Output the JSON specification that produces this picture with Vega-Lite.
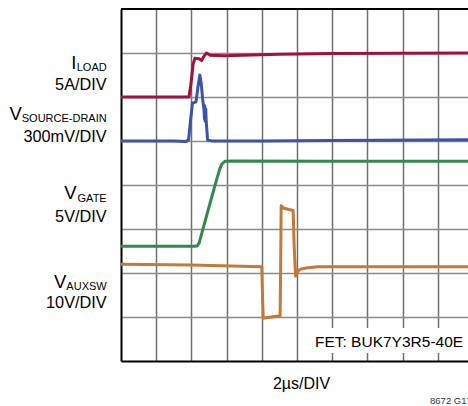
{
  "$schema": "https://vega.github.io/schema/vega-lite/v6.json",
  "width": 347,
  "height": 352,
  "autosize": "none",
  "padding": {"left": 121, "top": 9, "right": 0, "bottom": 45},
  "background": "white",
  "config": {"view": {"stroke": null}, "font": "Liberation Sans"},
  "datasets": {
    "traces": [
      {"series": "ILOAD", "i": 0, "t": 0, "v": 6.0},
      {"series": "ILOAD", "i": 1, "t": 1.93, "v": 6.0},
      {"series": "ILOAD", "i": 2, "t": 1.98, "v": 6.25},
      {"series": "ILOAD", "i": 3, "t": 2.05, "v": 6.75},
      {"series": "ILOAD", "i": 4, "t": 2.1, "v": 6.88},
      {"series": "ILOAD", "i": 5, "t": 2.22, "v": 6.87},
      {"series": "ILOAD", "i": 6, "t": 2.29, "v": 6.83},
      {"series": "ILOAD", "i": 7, "t": 2.36, "v": 6.93},
      {"series": "ILOAD", "i": 8, "t": 2.43, "v": 7.0},
      {"series": "ILOAD", "i": 9, "t": 2.53, "v": 6.95},
      {"series": "ILOAD", "i": 10, "t": 2.95, "v": 6.94},
      {"series": "ILOAD", "i": 11, "t": 4.5, "v": 6.97},
      {"series": "ILOAD", "i": 12, "t": 6.0, "v": 6.99},
      {"series": "ILOAD", "i": 13, "t": 9.86, "v": 7.0},
      {"series": "VSD", "i": 0, "t": 0, "v": 5.0},
      {"series": "VSD", "i": 1, "t": 1.5, "v": 5.0},
      {"series": "VSD", "i": 2, "t": 1.85, "v": 4.99},
      {"series": "VSD", "i": 3, "t": 1.92, "v": 5.03},
      {"series": "VSD", "i": 4, "t": 1.98, "v": 5.5},
      {"series": "VSD", "i": 5, "t": 2.03, "v": 5.86},
      {"series": "VSD", "i": 6, "t": 2.13, "v": 5.89},
      {"series": "VSD", "i": 7, "t": 2.19, "v": 6.25},
      {"series": "VSD", "i": 8, "t": 2.24, "v": 6.5},
      {"series": "VSD", "i": 9, "t": 2.28, "v": 6.3},
      {"series": "VSD", "i": 10, "t": 2.32, "v": 5.95},
      {"series": "VSD", "i": 11, "t": 2.36, "v": 5.7},
      {"series": "VSD", "i": 12, "t": 2.37, "v": 5.5},
      {"series": "VSD", "i": 13, "t": 2.38, "v": 5.8},
      {"series": "VSD", "i": 14, "t": 2.39, "v": 5.45},
      {"series": "VSD", "i": 15, "t": 2.41, "v": 5.72},
      {"series": "VSD", "i": 16, "t": 2.42, "v": 5.45},
      {"series": "VSD", "i": 17, "t": 2.46, "v": 5.02},
      {"series": "VSD", "i": 18, "t": 2.6, "v": 5.0},
      {"series": "VSD", "i": 19, "t": 4.0, "v": 5.0},
      {"series": "VSD", "i": 20, "t": 6.0, "v": 5.01},
      {"series": "VSD", "i": 21, "t": 9.86, "v": 5.03},
      {"series": "VGATE", "i": 0, "t": 0, "v": 2.61},
      {"series": "VGATE", "i": 1, "t": 2.1, "v": 2.61},
      {"series": "VGATE", "i": 2, "t": 2.17, "v": 2.62},
      {"series": "VGATE", "i": 3, "t": 2.22, "v": 2.68},
      {"series": "VGATE", "i": 4, "t": 2.3, "v": 2.92},
      {"series": "VGATE", "i": 5, "t": 2.5, "v": 3.5},
      {"series": "VGATE", "i": 6, "t": 2.69, "v": 4.05},
      {"series": "VGATE", "i": 7, "t": 2.8, "v": 4.35},
      {"series": "VGATE", "i": 8, "t": 2.86, "v": 4.47},
      {"series": "VGATE", "i": 9, "t": 2.95, "v": 4.54},
      {"series": "VGATE", "i": 10, "t": 3.2, "v": 4.545},
      {"series": "VGATE", "i": 11, "t": 6.0, "v": 4.54},
      {"series": "VGATE", "i": 12, "t": 9.86, "v": 4.54},
      {"series": "VAUXSW", "i": 0, "t": 0, "v": 2.2},
      {"series": "VAUXSW", "i": 1, "t": 2.0, "v": 2.18},
      {"series": "VAUXSW", "i": 2, "t": 4.0, "v": 2.14},
      {"series": "VAUXSW", "i": 3, "t": 4.02, "v": 1.5},
      {"series": "VAUXSW", "i": 4, "t": 4.04, "v": 0.97},
      {"series": "VAUXSW", "i": 5, "t": 4.52, "v": 1.03},
      {"series": "VAUXSW", "i": 6, "t": 4.54, "v": 2.5},
      {"series": "VAUXSW", "i": 7, "t": 4.55, "v": 3.53},
      {"series": "VAUXSW", "i": 8, "t": 4.63, "v": 3.47},
      {"series": "VAUXSW", "i": 9, "t": 4.89, "v": 3.42},
      {"series": "VAUXSW", "i": 10, "t": 4.92, "v": 2.6},
      {"series": "VAUXSW", "i": 11, "t": 4.96, "v": 1.93},
      {"series": "VAUXSW", "i": 12, "t": 5.03, "v": 2.05},
      {"series": "VAUXSW", "i": 13, "t": 5.12, "v": 2.09},
      {"series": "VAUXSW", "i": 14, "t": 5.3, "v": 2.12},
      {"series": "VAUXSW", "i": 15, "t": 5.6, "v": 2.14},
      {"series": "VAUXSW", "i": 16, "t": 9.86, "v": 2.14}
    ],
    "labels": [
      {"kind": "main", "label": "I", "t": -1.264, "v": 6.63},
      {"kind": "sub", "label": "LOAD", "t": -0.406, "v": 6.59},
      {"kind": "scale", "label": "5A/DIV", "t": -0.406, "v": 6.16},
      {"kind": "main", "label": "V", "t": -2.82, "v": 5.477},
      {"kind": "sub", "label": "SOURCE-DRAIN", "t": -0.406, "v": 5.425},
      {"kind": "scale", "label": "300mV/DIV", "t": -0.406, "v": 4.977},
      {"kind": "main", "label": "V", "t": -1.264, "v": 3.675},
      {"kind": "sub", "label": "GATE", "t": -0.406, "v": 3.607},
      {"kind": "scale", "label": "5V/DIV", "t": -0.406, "v": 3.148},
      {"kind": "main", "label": "V", "t": -1.551, "v": 1.652},
      {"kind": "sub", "label": "AUXSW", "t": -0.406, "v": 1.614},
      {"kind": "scale", "label": "10V/DIV", "t": -0.406, "v": 1.2}
    ]
  },
  "layer": [
    {
      "data": {"name": "traces"},
      "mark": {"type": "line", "strokeWidth": 3, "strokeJoin": "round", "strokeCap": "round", "clip": true},
      "encoding": {
        "x": {
          "field": "t", "type": "quantitative",
          "scale": {"domain": [0, 9.858], "nice": false, "zero": false},
          "axis": {
            "values": [1, 2, 3, 4, 5, 6, 7, 8, 9],
            "grid": true, "gridColor": "#707070", "gridWidth": 1.5,
            "labels": false, "ticks": false,
            "domain": true, "domainColor": "black", "domainWidth": 2,
            "title": "2µs/DIV", "titleFontSize": 16, "titleFontWeight": "normal",
            "titleColor": "black", "titleFont": "Liberation Sans",
            "titleX": 180, "titleY": 27, "titleBaseline": "alphabetic"
          }
        },
        "y": {
          "field": "v", "type": "quantitative",
          "scale": {"domain": [0, 8], "nice": false, "zero": false},
          "axis": {
            "values": [1, 2, 3, 4, 5, 6, 7],
            "grid": true, "gridColor": "#8a8a8a", "gridWidth": 1.5,
            "labels": false, "ticks": false,
            "domain": true, "domainColor": "black", "domainWidth": 2,
            "title": null
          }
        },
        "color": {
          "field": "series", "type": "nominal",
          "scale": {"domain": ["ILOAD", "VSD", "VGATE", "VAUXSW"], "range": ["#A0123A", "#3B54A5", "#34884F", "#C47A36"]},
          "legend": null
        },
        "order": {"field": "i", "type": "quantitative"}
      }
    },
    {
      "data": {"values": [{"v": 8}]},
      "mark": {"type": "rule", "color": "black", "strokeWidth": 2},
      "encoding": {"y": {"field": "v", "type": "quantitative"}}
    },
    {
      "data": {"values": [{"t": 5.3, "t2": 9.86, "v": 0.18, "v2": 0.75}]},
      "mark": {"type": "rect", "color": "white"},
      "encoding": {
        "x": {"field": "t", "type": "quantitative"},
        "x2": {"field": "t2"},
        "y": {"field": "v", "type": "quantitative"},
        "y2": {"field": "v2"}
      }
    },
    {
      "data": {"values": [{"label": "FET: BUK7Y3R5-40E", "t": 5.51, "v": 0.311}]},
      "mark": {"type": "text", "align": "left", "baseline": "alphabetic", "fontSize": 15.5, "color": "black"},
      "encoding": {
        "x": {"field": "t", "type": "quantitative"},
        "y": {"field": "v", "type": "quantitative"},
        "text": {"field": "label"}
      }
    },
    {
      "data": {"values": [{"label": "8672 G17", "t": 8.78, "v": -0.977}]},
      "mark": {"type": "text", "align": "left", "baseline": "alphabetic", "fontSize": 9.5, "color": "#333333"},
      "encoding": {
        "x": {"field": "t", "type": "quantitative"},
        "y": {"field": "v", "type": "quantitative"},
        "text": {"field": "label"}
      }
    },
    {
      "data": {"name": "labels"},
      "transform": [{"filter": "datum.kind === 'main'"}],
      "mark": {"type": "text", "align": "right", "baseline": "alphabetic", "fontSize": 18.5, "color": "black"},
      "encoding": {
        "x": {"field": "t", "type": "quantitative"},
        "y": {"field": "v", "type": "quantitative"},
        "text": {"field": "label"}
      }
    },
    {
      "data": {"name": "labels"},
      "transform": [{"filter": "datum.kind === 'sub'"}],
      "mark": {"type": "text", "align": "right", "baseline": "alphabetic", "fontSize": 11, "color": "black"},
      "encoding": {
        "x": {"field": "t", "type": "quantitative"},
        "y": {"field": "v", "type": "quantitative"},
        "text": {"field": "label"}
      }
    },
    {
      "data": {"name": "labels"},
      "transform": [{"filter": "datum.kind === 'scale'"}],
      "mark": {"type": "text", "align": "right", "baseline": "alphabetic", "fontSize": 16.3, "color": "black"},
      "encoding": {
        "x": {"field": "t", "type": "quantitative"},
        "y": {"field": "v", "type": "quantitative"},
        "text": {"field": "label"}
      }
    }
  ]
}
